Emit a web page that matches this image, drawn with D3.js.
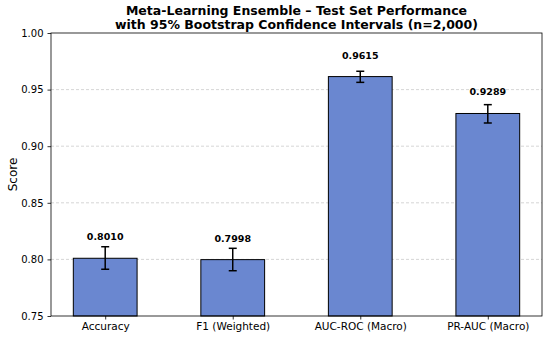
<!DOCTYPE html>
<html>
<head>
<meta charset="utf-8">
<script src="https://cdn.jsdelivr.net/npm/d3@7"></script>
<style>
  body { margin: 0; background: #fff; }
  text { font-family: "DejaVu Sans", sans-serif; }
</style>
</head>
<body>
<div id="chart"></div>
<script>
const categories = ['Accuracy', 'F1 (Weighted)', 'AUC-ROC (Macro)', 'PR-AUC (Macro)'];
const scores = [0.8010, 0.7998, 0.9615, 0.9289];
const ciLow = [0.7913, 0.7900, 0.9564, 0.9205];
const ciHigh = [0.8112, 0.8098, 0.9662, 0.9367];
const yTicks = [0.75, 0.80, 0.85, 0.90, 0.95, 1.00];

const width = 550;
const height = 341;
const margin = {top: 33, right: 8, bottom: 25, left: 51};

const svg = d3.select("#chart")
    .append("svg")
    .attr("width", width)
    .attr("height", height);

// matplotlib style x limits: bars of width 0.5 plus 5% margins
const x = d3.scaleLinear()
    .domain([-0.425, categories.length - 1 + 0.425])
    .range([margin.left, width - margin.right]);

const y = d3.scaleLinear()
    .domain([0.75, 1.00])
    .range([height - margin.bottom, margin.top]);

const barW = x(0.5) - x(0);

// Grid
svg.append("g")
    .selectAll("line")
    .data(yTicks.slice(1, -1))
    .enter()
    .append("line")
    .attr("x1", margin.left)
    .attr("x2", width - margin.right)
    .attr("y1", d => y(d))
    .attr("y2", d => y(d))
    .attr("stroke", "#cccccc")
    .attr("stroke-width", 0.8)
    .attr("stroke-dasharray", "3,2");

// Bars
svg.append("g")
    .selectAll("rect")
    .data(scores)
    .enter()
    .append("rect")
    .attr("x", (d, i) => x(i) - barW / 2)
    .attr("y", d => y(d))
    .attr("width", barW)
    .attr("height", d => y(0.75) - y(d))
    .attr("fill", "#6a87d0")
    .attr("stroke", "#000")
    .attr("stroke-width", 1);

// Error bars
const err = svg.append("g")
    .attr("stroke", "#000")
    .attr("stroke-width", 1.5);

scores.forEach((d, i) => {
    const cx = x(i);
    err.append("line")
        .attr("x1", cx).attr("x2", cx)
        .attr("y1", y(ciLow[i])).attr("y2", y(ciHigh[i]));
    [ciLow[i], ciHigh[i]].forEach(v => {
        err.append("line")
            .attr("x1", cx - 4).attr("x2", cx + 4)
            .attr("y1", y(v)).attr("y2", y(v));
    });
});

// Value labels
svg.append("g")
    .selectAll("text")
    .data(scores)
    .enter()
    .append("text")
    .attr("x", (d, i) => x(i))
    .attr("y", d => y(d) - 18)
    .attr("text-anchor", "middle")
    .attr("font-size", 9.5)
    .attr("font-weight", "bold")
    .text(d => d.toFixed(4));

// Axes
const yAxis = svg.append("g")
    .attr("transform", `translate(${margin.left},0)`)
    .call(d3.axisLeft(y).tickValues(yTicks).tickFormat(d3.format(".2f")).tickSize(3.5).tickPadding(4));

const xAxis = svg.append("g")
    .attr("transform", `translate(0,${height - margin.bottom})`)
    .call(d3.axisBottom(x).tickValues(d3.range(categories.length)).tickFormat(i => categories[i]).tickSize(3.5).tickPadding(3));

[xAxis, yAxis].forEach(a => {
    a.select(".domain").remove();
    a.selectAll("text").attr("fill", "#000").style("font-family", "DejaVu Sans");
    a.selectAll("line").attr("stroke", "#000").attr("stroke-width", 0.8);
});
xAxis.selectAll("text").attr("font-size", 10.5);
yAxis.selectAll("text").attr("font-size", 10);

// Frame
svg.append("rect")
    .attr("x", margin.left)
    .attr("y", margin.top)
    .attr("width", width - margin.left - margin.right)
    .attr("height", height - margin.top - margin.bottom)
    .attr("fill", "none")
    .attr("stroke", "#000")
    .attr("stroke-width", 0.8);

// Y label
svg.append("text")
    .attr("transform", `translate(17,${(margin.top + height - margin.bottom) / 2}) rotate(-90)`)
    .attr("text-anchor", "middle")
    .attr("font-size", 12)
    .text("Score");

// Title
const title = svg.append("text")
    .attr("text-anchor", "middle")
    .attr("font-size", 12.5)
    .attr("font-weight", "bold");
title.append("tspan").attr("x", x(1.5)).attr("y", 15).text("Meta-Learning Ensemble – Test Set Performance");
title.append("tspan").attr("x", x(1.5)).attr("y", 28.5).text("with 95% Bootstrap Confidence Intervals (n=2,000)");
</script>
</body>
</html>
